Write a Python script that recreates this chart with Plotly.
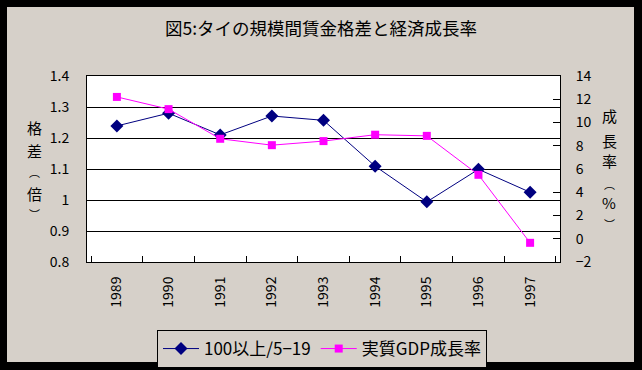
import plotly.graph_objects as go

years = ["1989", "1990", "1991", "1992", "1993", "1994", "1995", "1996", "1997"]
wage_gap = [1.239, 1.280, 1.210, 1.271, 1.257, 1.109, 0.994, 1.099, 1.025]
gdp_growth = [12.2, 11.15, 8.6, 8.05, 8.4, 8.95, 8.85, 5.5, -0.35]
left_ticks = [0.8, 0.9, 1.0, 1.1, 1.2, 1.3, 1.4]
left_ticktext = ["0.8", "0.9", "1", "1.1", "1.2", "1.3", "1.4"]
right_ticks = [-2, 0, 2, 4, 6, 8, 10, 12, 14]
title_text = "図5:タイの規模間賃金格差と経済成長率"
left_title = ["格", "差", "︵", "倍", "︶"]
right_title = ["成", "長", "率", "︵", "%", "︶"]
name1 = "100以上/5−19"
name2 = "実質GDP成長率"

W, H = 642, 370
L, R, T, B = 87, 560, 76, 262
FONT = "Noto Sans CJK JP, sans-serif"
BG = "#d6d0c9"

fig = go.Figure()
fig.add_trace(go.Scatter(
    x=years, y=wage_gap, name=name1, mode="lines+markers",
    line=dict(color="#000080", width=1),
    marker=dict(symbol="diamond", size=10, color="#000080"),
    yaxis="y"))
fig.add_trace(go.Scatter(
    x=years, y=gdp_growth, name=name2, mode="lines+markers",
    line=dict(color="#ff00ff", width=1),
    marker=dict(symbol="square", size=8, color="#ff00ff"),
    yaxis="y2"))

def px_x(p):
    return (p - L) / (R - L)

def px_y(p):
    return (B - p) / (B - T)

PAREN = ("︵", "︶")
annotations = []
lt_y = [127, 150, 172, 193, 214]
for ch, yy in zip(left_title, lt_y):
    annotations.append(dict(text=ch, x=px_x(34), y=px_y(yy), xref="paper", yref="paper",
                            showarrow=False, xanchor="center", yanchor="middle",
                            font=dict(family=FONT, size=11 if ch in PAREN else 15, color="black")))
rt_y = [115, 140, 160, 184, 202, 224]
for ch, yy in zip(right_title, rt_y):
    annotations.append(dict(text=ch, x=px_x(609), y=px_y(yy), xref="paper", yref="paper",
                            showarrow=False, xanchor="center", yanchor="middle",
                            font=dict(family=FONT, size=11 if ch in PAREN else 15, color="black")))

border = [(0, 7, 0, H), (634, W, 0, H), (0, W, 0, 7), (0, W, 362, H)]
shapes = []
for x0, x1, y0, y1 in border:
    shapes.append(dict(type="rect", xref="paper", yref="paper",
                       x0=px_x(x0), x1=px_x(x1), y0=px_y(y1), y1=px_y(y0),
                       line=dict(width=0), fillcolor="black", layer="above"))

fig.update_layout(
    width=W, height=H,
    margin=dict(l=L, r=W - R, t=T, b=H - B, autoexpand=False),
    paper_bgcolor=BG, plot_bgcolor="white",
    font=dict(family=FONT, size=14, color="black"),
    title=dict(text=title_text, x=0.5, xref="container", xanchor="center",
               y=1 - 29 / H, yref="container", yanchor="middle",
               font=dict(family=FONT, size=17.5, color="black")),
    xaxis=dict(type="category", tickson="boundaries", ticks="inside", ticklen=6,
               tickcolor="black", tickangle=-90, showgrid=False,
               showline=True, linecolor="black", linewidth=1, mirror=True,
               ticklabelstandoff=8, tickfont=dict(size=14)),
    yaxis=dict(range=[0.8, 1.4], tickvals=left_ticks, ticktext=left_ticktext,
               showgrid=True, gridcolor="black", gridwidth=1, ticks="",
               showline=True, linecolor="black", linewidth=1, mirror=True,
               zeroline=False, ticklabelstandoff=14, tickfont=dict(size=14)),
    yaxis2=dict(range=[-2, 14], tickvals=right_ticks, overlaying="y", side="right",
                showgrid=False, ticks="inside", ticklen=7, tickcolor="black",
                showline=True, linecolor="black", linewidth=1, zeroline=False,
                ticklabelstandoff=12, tickfont=dict(size=14)),
    legend=dict(orientation="h", x=px_x(322), xanchor="center", y=px_y(330), yanchor="top",
                bgcolor=BG, bordercolor="black", borderwidth=1,
                font=dict(family=FONT, size=17, color="black"),
                itemwidth=36, tracegroupgap=0),
    showlegend=True,
    annotations=annotations,
    shapes=shapes,
)

fig.write_html("out.html", config={"displayModeBar": False},
               post_script="document.body.style.margin='0';document.body.style.background='black';document.body.style.overflow='hidden';")
